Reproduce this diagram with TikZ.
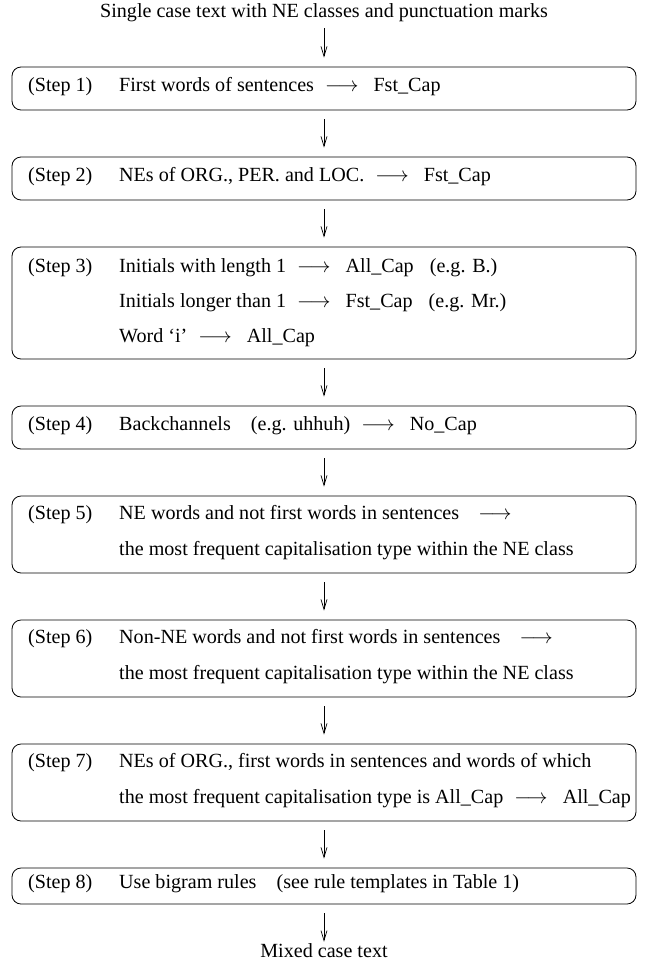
\documentclass[tikz,border=0pt]{standalone}
\usepackage{fontspec}
\setmainfont{Liberation Serif}
\usetikzlibrary{arrows.meta}

\newcommand{\ra}{\hspace{.55em}$\longrightarrow$\hspace{.75em}}

\tikzset{
  stepbox/.style={draw, line width=0.8pt, rounded corners=9pt, minimum width=624pt, inner sep=0pt},
  txt/.style={anchor=west, inner sep=0pt, text height=1.5ex, text depth=.25ex, font=\fontsize{20.1}{24}\selectfont},
  flow/.style={-{Straight Barb[length=10pt,width=6pt]}, line width=0.7pt, shorten <=9pt, shorten >=9pt}
}

\begin{document}
\begin{tikzpicture}[x=1pt,y=-1pt]
    \useasboundingbox (0,0) rectangle (648,967);
    \node[txt, anchor=center] (top) at (324,15) {Single case text with NE classes and punctuation marks};
    \node[txt, anchor=center] (bot) at (324,955) {Mixed case text};

    \node[stepbox, minimum height=43pt] (s1) at (324,88.5) {};
    \node[stepbox, minimum height=43pt] (s2) at (324,178.5) {};
    \node[stepbox, minimum height=112pt] (s3) at (324,303) {};
    \node[stepbox, minimum height=43pt] (s4) at (324,427.5) {};
    \node[stepbox, minimum height=77pt] (s5) at (324,534.5) {};
    \node[stepbox, minimum height=77pt] (s6) at (324,658.5) {};
    \node[stepbox, minimum height=77pt] (s7) at (324,782.5) {};
    \node[stepbox, minimum height=36pt] (s8) at (324,886) {};

    % step 1
    \node[txt] (l1) at (28,88.5) {(Step 1)};
    \node[txt] (t1) at (119,88.5) {First words of sentences\ra Fst\_Cap};
    % step 2
    \node[txt] (l2) at (28,178.5) {(Step 2)};
    \node[txt] (t2) at (119,178.5) {NEs of ORG., PER. and LOC.\ra Fst\_Cap};
    % step 3
    \node[txt] (l3) at (28,270) {(Step 3)};
    \node[txt] (t3a) at (119,270) {Initials with length 1\ra All\_Cap\hspace{.8em}(e.g. B.)};
    \node[txt] (t3b) at (119,305) {Initials longer than 1\ra Fst\_Cap\hspace{.8em}(e.g. Mr.)};
    \node[txt] (t3c) at (119,340) {Word `i'\ra All\_Cap};
    % step 4
    \node[txt] (l4) at (28,427.5) {(Step 4)};
    \node[txt] (t4) at (119,427.5) {Backchannels\hspace{1em}(e.g. uhhuh)\ra No\_Cap};
    % step 5
    \node[txt] (l5) at (28,517) {(Step 5)};
    \node[txt] (t5a) at (119,517) {NE words and not first words in sentences\hspace{.4em}\ra};
    \node[txt] (t5b) at (119,553) {the most frequent capitalisation type within the NE class};
    % step 6
    \node[txt] (l6) at (28,641) {(Step 6)};
    \node[txt] (t6a) at (119,641) {Non-NE words and not first words in sentences\hspace{.4em}\ra};
    \node[txt] (t6b) at (119,677) {the most frequent capitalisation type within the NE class};
    % step 7
    \node[txt] (l7) at (28,765) {(Step 7)};
    \node[txt] (t7a) at (119,765) {NEs of ORG., first words in sentences and words of which};
    \node[txt] (t7b) at (119,801) {the most frequent capitalisation type is All\_Cap\ra All\_Cap};
    % step 8
    \node[txt] (l8) at (28,886) {(Step 8)};
    \node[txt] (t8) at (119,886) {Use bigram rules\hspace{1em}(see rule templates in Table 1)};

    \foreach \a/\b in {top/s1,s1/s2,s2/s3,s3/s4,s4/s5,s5/s6,s6/s7,s7/s8,s8/bot}
      \draw[flow] (\a) -- (\b);
\end{tikzpicture}
\end{document}
